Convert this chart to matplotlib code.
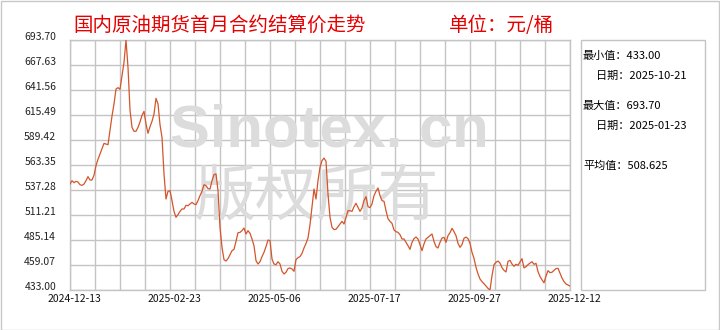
import numpy as np
import matplotlib
matplotlib.use("Agg")
import matplotlib.pyplot as plt
from matplotlib.patches import Rectangle
from matplotlib.transforms import ScaledTranslation

plt.rcParams['font.family'] = ['Noto Sans CJK SC', 'DejaVu Sans']

# settlement price (yuan / barrel)
prices = [
    543.5, 547.0, 544.9, 546.3, 545.6, 542.8, 542.1, 543.5, 547.0, 551.2,
    547.7, 547.7, 552.6, 562.7, 569.3, 574.8, 580.0, 585.9, 585.2, 584.5,
    599.2, 614.4, 627.0, 642.6, 644.0, 642.3, 656.5, 670.4, 693.7, 665.2,
    620.7, 602.6, 598.5, 598.5, 602.6, 608.2, 615.1, 619.3, 606.1, 596.4,
    603.3, 608.9, 616.5, 632.9, 627.0, 605.4, 592.2, 554.0, 527.9, 535.9,
    536.6, 526.2, 515.0, 508.8, 511.6, 515.0, 517.5, 517.5, 521.3, 520.9,
    522.7, 524.4, 522.7, 522.0, 526.2, 531.4, 535.9, 542.8, 541.8, 538.7,
    538.3, 547.0, 553.3, 554.0, 536.6, 498.4, 477.5, 464.6, 463.2, 465.7,
    469.8, 474.0, 475.4, 483.7, 492.7, 493.1, 494.9, 497.6, 491.4, 494.9,
    492.1, 486.2, 479.2, 463.6, 460.1, 462.5, 467.8, 472.3, 478.2, 485.1,
    484.5, 465.3, 460.1, 459.4, 462.5, 460.1, 452.5, 449.7, 451.5, 455.3,
    456.0, 454.9, 452.5, 464.6, 466.7, 467.8, 471.2, 476.8, 481.6, 487.2,
    501.1, 519.2, 538.3, 527.9, 547.0, 560.9, 567.9, 570.6, 567.2, 533.1,
    508.8, 498.4, 496.0, 496.3, 499.1, 501.8, 504.6, 501.8, 508.8, 515.7,
    515.7, 515.0, 519.9, 523.4, 519.2, 515.0, 518.5, 526.2, 530.3, 519.9,
    518.9, 522.7, 531.4, 535.9, 539.4, 531.4, 526.2, 525.5, 515.7, 507.4,
    504.6, 502.5, 495.6, 493.8, 493.1, 490.7, 486.2, 486.2, 482.7, 479.2,
    475.4, 482.7, 486.5, 488.2, 486.2, 480.3, 474.0, 481.0, 486.2, 487.9,
    489.7, 491.4, 483.7, 478.2, 476.8, 482.7, 487.2, 487.9, 482.7, 489.7,
    492.8, 497.3, 493.8, 489.7, 481.7, 477.5, 480.3, 486.9, 488.2, 486.5,
    481.7, 472.3, 466.0, 456.6, 449.7, 444.5, 441.7, 439.6, 437.1, 434.7,
    433.0, 447.9, 459.4, 461.8, 463.2, 461.1, 456.3, 453.5, 451.8, 462.9,
    463.9, 460.1, 457.7, 459.8, 458.7, 462.2, 465.7, 456.0, 457.3, 459.4,
    461.1, 462.5, 459.8, 460.8, 452.2, 447.1, 443.6, 440.5, 447.5, 453.2,
    451.1, 451.5, 453.5, 455.3, 455.6, 450.4, 445.5, 441.7, 439.3, 438.2,
    437.1,
]
date_labels = ['2024-12-13', '2025-02-23', '2025-05-06', '2025-07-17',
               '2025-09-27', '2025-12-12']
y_min, y_max = 433.00, 693.70
min_date = '2025-10-21'
max_date = '2025-01-23'
avg_text = '508.625'

W, H = 720, 330
fig = plt.figure(figsize=(W / 100, H / 100), dpi=100)


def px(x, y):
    return x / W, 1 - y / H


grid_col = '#c4c4c4'
ax = fig.add_axes([70 / W, 40 / H, 500 / W, 250 / H])
n = len(prices)
x = np.arange(n)
ax.plot(x, prices, color='#d4552a', lw=0.9, zorder=5)
ax.set_xlim(0, n - 1)
ax.set_ylim(y_min, y_max)

yt = np.linspace(y_min, y_max, 11)
ax.set_yticks(yt)
ax.set_yticklabels(['%.2f' % v for v in yt], fontsize=7.5, color='#222222')
xt = np.linspace(0, n - 1, 21)
ax.set_xticks(xt)
ax.set_xticklabels([date_labels[i // 4] if i % 4 == 0 else '' for i in range(21)],
                   fontsize=7.5, color='#111111')
ax.tick_params(length=0, pad=3)
ax.tick_params(axis='y', pad=10)
for lab in ax.get_yticklabels():
    lab.set_transform(lab.get_transform() + ScaledTranslation(0, 0.04, fig.dpi_scale_trans))
for lab in ax.get_xticklabels():
    lab.set_transform(lab.get_transform() + ScaledTranslation(0.04, 0, fig.dpi_scale_trans))
ax.grid(True, color=grid_col, lw=1)
ax.set_axisbelow(True)
for s in ax.spines.values():
    s.set_color(grid_col)
    s.set_linewidth(1)

# watermark
ax.text(0.518, 0.636, 'Sinotex. cn', transform=ax.transAxes, fontsize=43,
        family='Liberation Sans', weight='bold', color='#dcdcdc',
        ha='center', va='center', zorder=2)
ax.text(0.492, 0.37, '版权所有', transform=ax.transAxes, fontsize=44,
        color='#dcdcdc', ha='center', va='center', zorder=2)

# titles
fig.text(*px(73, 25), '国内原油期货首月合约结算价走势', fontsize=14, color='#e60000',
         va='center', ha='left')
fig.text(*px(449, 25), '单位：元/桶', fontsize=14, color='#e60000',
         va='center', ha='left')

# stats box
fig.patches.append(Rectangle(px(581, 290), 124 / W, 250 / H, transform=fig.transFigure,
                             fill=False, edgecolor=grid_col, lw=1))
fs = 8
fig.text(*px(583, 56), '最小值：%.2f' % min(prices), fontsize=fs, va='center')
fig.text(*px(596, 76), '日期：' + min_date, fontsize=fs, va='center')
fig.text(*px(583, 106), '最大值：%.2f' % max(prices), fontsize=fs, va='center')
fig.text(*px(596, 126), '日期：' + max_date, fontsize=fs, va='center')
fig.text(*px(583, 166), '平均值：' + avg_text, fontsize=fs, va='center')

# outer frame
fig.patches.append(Rectangle((0.5 / W, 0.5 / H), 1 - 1.5 / W, 1 - 1.5 / H,
                             transform=fig.transFigure, fill=False,
                             edgecolor='#c8c8c8', lw=1))

fig.savefig('out.png', dpi=100)
